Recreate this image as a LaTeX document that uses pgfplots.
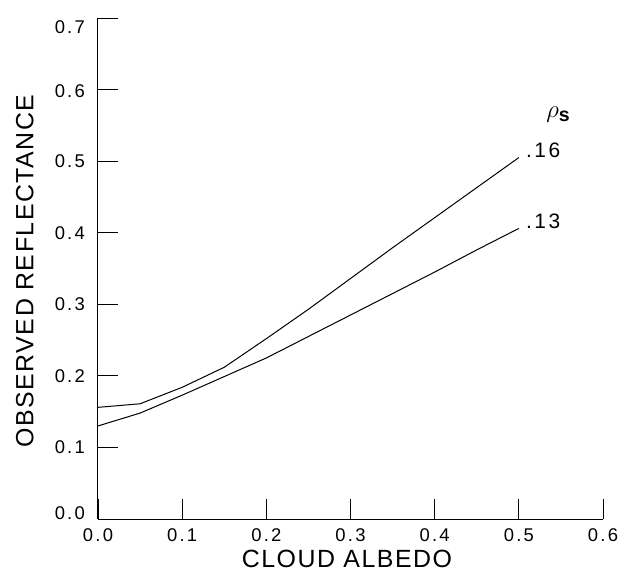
\documentclass[border=0pt]{standalone}
\usepackage{pgfplots}
\pgfplotsset{compat=1.18}
\usepackage{fontspec}
\setmainfont{Liberation Sans}
\newfontfamily\tickfont[LetterSpace=12]{Liberation Sans}
\newfontfamily\labfont[LetterSpace=6]{Liberation Sans}
\begin{document}
\begin{tikzpicture}
\begin{axis}[
  at={(0,0)}, anchor=south west,
  scale only axis, width=505bp, height=501bp,
  xmin=0, xmax=0.6, ymin=0, ymax=0.7,
  axis x line=bottom, axis y line=left,
  axis line style={-, line width=1bp, black},
  xtick={0,0.1,0.2,0.3,0.4,0.5,0.6},
  xticklabels={0.0,0.1,0.2,0.3,0.4,0.5,0.6},
  ytick={0,0.1,0.2,0.3,0.4,0.5,0.6,0.7},
  yticklabels={\raisebox{6bp}[\height][\depth]{0.0},0.1,0.2,0.3,0.4,0.5,\raisebox{-2bp}[\height][\depth]{0.6},\raisebox{-9bp}[\height][\depth]{0.7}},
  tick align=inside, major tick length=20bp,
  tick style={line width=0.9bp, black},
  xticklabel style={font=\fontsize{18.5}{18.5}\selectfont\tickfont, anchor=north, inner sep=0pt, yshift=-9bp},
  yticklabel style={font=\fontsize{18.5}{18.5}\selectfont\tickfont, anchor=east, inner sep=0pt, xshift=-13bp},
  xlabel={CLOUD ALBEDO},
  ylabel={OBSERVED REFLECTANCE},
  every axis x label/.style={at={(axis description cs:0.493,-0.080)}, anchor=center, font=\fontsize{25}{25}\selectfont\labfont},
  every axis y label/.style={at={(axis description cs:-0.145,0.495)}, rotate=90, anchor=center, font=\fontsize{25}{25}\selectfont\labfont},
  clip=false,
]
\coordinate (O) at (rel axis cs:0,0);
\addplot[black, line width=1bp] coordinates {
(0,0.156)(0.05,0.161)(0.1,0.184)(0.15,0.212)(0.2,0.252)(0.25,0.293)(0.3,0.336)(0.35,0.379)(0.4,0.421)(0.45,0.463)(0.5,0.505)};
\addplot[black, line width=1bp] coordinates {
(0,0.130)(0.05,0.148)(0.1,0.173)(0.15,0.199)(0.2,0.225)(0.25,0.255)(0.3,0.285)(0.35,0.315)(0.4,0.345)(0.45,0.376)(0.5,0.406)};
\node[anchor=base west, inner sep=0pt, xshift=7bp, font=\fontsize{21}{21}\selectfont\tickfont] at (axis cs:0.5,0.505) {.16};
\node[anchor=base west, inner sep=0pt, xshift=7bp, font=\fontsize{21}{21}\selectfont\tickfont] at (axis cs:0.5,0.406) {.13};
\node[anchor=center, inner sep=0pt, font=\fontsize{28}{28}\selectfont] at (axis cs:0.547,0.565) {$\rho_{\mathbf{s}}$};
\end{axis}
\pgfresetboundingbox
\path ([shift={(-98bp,-53bp)}]O) rectangle ([shift={(521bp,519bp)}]O);
\end{tikzpicture}
\end{document}
